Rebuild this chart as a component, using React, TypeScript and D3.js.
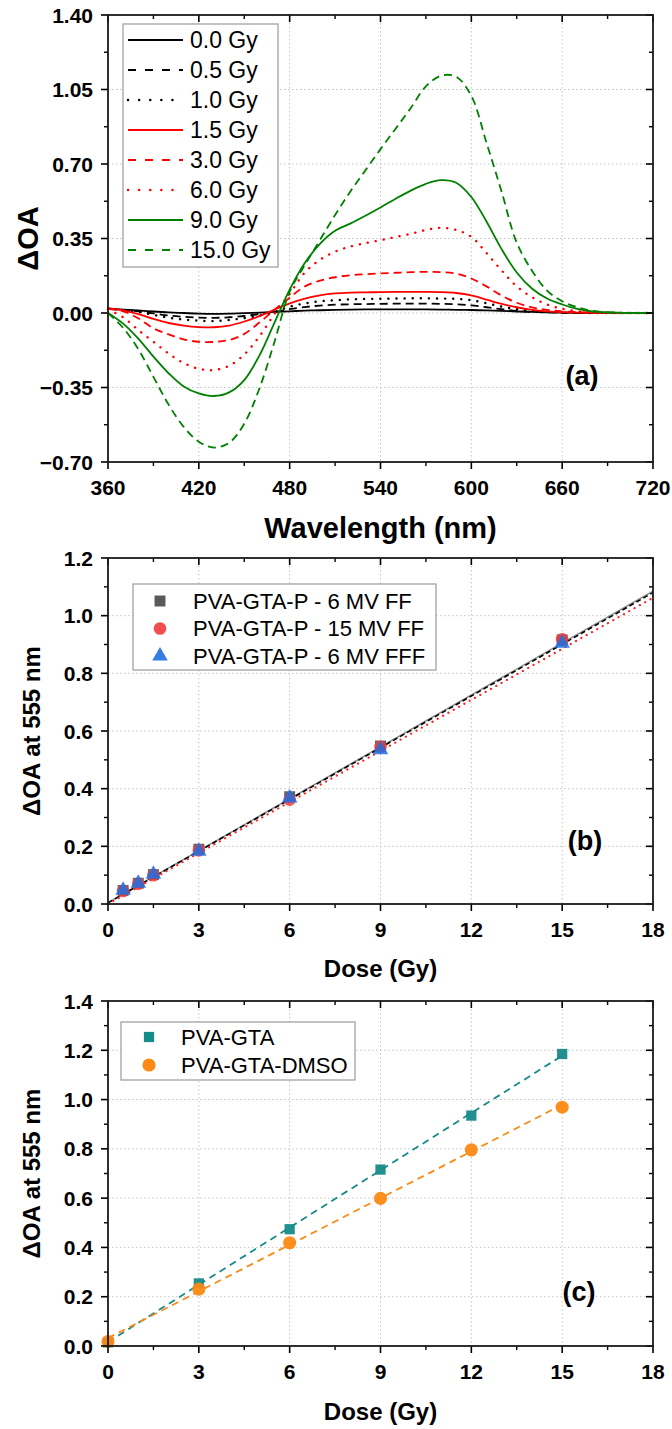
import React from "react";
import * as d3 from "d3";

const FONT = "'Liberation Sans', Arial, Helvetica, sans-serif";

// ---- panel (a): spectra ----
const wavelengths = [360, 370, 380, 390, 400, 410, 420, 430, 440, 450, 460, 470, 480, 490, 500, 510, 520, 530, 540, 550, 560, 570, 580, 590, 600, 610, 620, 630, 640, 650, 660, 670, 680, 700, 720];
const doseLabels = ["0.0 Gy", "0.5 Gy", "1.0 Gy", "1.5 Gy", "3.0 Gy", "6.0 Gy", "9.0 Gy", "15.0 Gy"];
const spec00 = [0.020, 0.016, 0.012, 0.007, 0.003, 0.000, -0.003, -0.004, -0.003, -0.001, 0.002, 0.005, 0.008, 0.011, 0.013, 0.015, 0.016, 0.017, 0.017, 0.017, 0.017, 0.017, 0.016, 0.015, 0.014, 0.012, 0.010, 0.007, 0.005, 0.003, 0.002, 0.001, 0.000, 0, 0];
const spec05 = [0.020, 0.015, 0.008, -0.002, -0.012, -0.018, -0.022, -0.023, -0.020, -0.014, -0.005, 0.005, 0.018, 0.028, 0.035, 0.039, 0.041, 0.042, 0.043, 0.044, 0.044, 0.044, 0.043, 0.041, 0.036, 0.027, 0.018, 0.010, 0.005, 0.003, 0.001, 0.000, 0, 0, 0];
const spec10 = [0.020, 0.014, 0.005, -0.009, -0.022, -0.031, -0.036, -0.038, -0.033, -0.024, -0.012, 0.005, 0.030, 0.045, 0.055, 0.060, 0.064, 0.066, 0.067, 0.068, 0.069, 0.069, 0.068, 0.066, 0.060, 0.046, 0.030, 0.018, 0.010, 0.005, 0.003, 0.001, 0, 0, 0];
const spec15 = [0.023, 0.012, -0.005, -0.028, -0.047, -0.059, -0.066, -0.067, -0.059, -0.040, -0.015, 0.016, 0.045, 0.068, 0.083, 0.092, 0.096, 0.097, 0.098, 0.099, 0.099, 0.099, 0.098, 0.094, 0.083, 0.063, 0.043, 0.027, 0.015, 0.008, 0.004, 0.002, 0.001, 0, 0];
const spec30 = [0.019, 0.008, -0.025, -0.072, -0.100, -0.124, -0.135, -0.136, -0.127, -0.098, -0.045, 0.015, 0.072, 0.125, 0.152, 0.168, 0.177, 0.182, 0.186, 0.189, 0.192, 0.193, 0.192, 0.185, 0.162, 0.125, 0.082, 0.048, 0.027, 0.015, 0.008, 0.004, 0.002, 0, 0];
const spec60 = [0.016, -0.020, -0.080, -0.135, -0.190, -0.235, -0.262, -0.268, -0.248, -0.195, -0.110, -0.004, 0.090, 0.190, 0.250, 0.288, 0.312, 0.328, 0.342, 0.357, 0.372, 0.390, 0.400, 0.390, 0.358, 0.282, 0.200, 0.125, 0.075, 0.040, 0.020, 0.008, 0.003, 0, 0];
const spec90 = [0.000, -0.050, -0.120, -0.205, -0.283, -0.345, -0.378, -0.390, -0.373, -0.315, -0.200, -0.045, 0.110, 0.235, 0.325, 0.386, 0.420, 0.457, 0.496, 0.537, 0.575, 0.607, 0.624, 0.612, 0.545, 0.430, 0.300, 0.190, 0.115, 0.068, 0.040, 0.019, 0.007, 0.001, 0];
const spec150 = [0.000, -0.070, -0.170, -0.300, -0.430, -0.535, -0.605, -0.632, -0.610, -0.520, -0.355, -0.135, 0.100, 0.225, 0.343, 0.460, 0.570, 0.670, 0.770, 0.866, 0.963, 1.065, 1.115, 1.110, 1.020, 0.800, 0.570, 0.330, 0.200, 0.105, 0.055, 0.027, 0.010, 0.001, 0];
const spectra = [spec00, spec05, spec10, spec15, spec30, spec60, spec90, spec150];
const specColors = ["#000000", "#000000", "#000000", "#ff0000", "#ff0000", "#ff0000", "#008000", "#008000"];
const specDash = ["", "8,5", "0.1,8", "", "8,5", "0.1,8", "", "8,5"];

// ---- panel (b): linearity for beams ----
const beamLabels = ["PVA-GTA-P - 6 MV FF", "PVA-GTA-P - 15 MV FF", "PVA-GTA-P - 6 MV FFF"];
const beamDoses = [0.5, 1, 1.5, 3, 6, 9, 15];
const ff6 = [0.047, 0.072, 0.102, 0.190, 0.372, 0.548, 0.916];
const ff15 = [0.045, 0.070, 0.100, 0.186, 0.362, 0.545, 0.918];
const fff6 = [0.048, 0.072, 0.103, 0.183, 0.368, 0.535, 0.904];
const fitDosesB = [0, 18];
const fitFF6 = [0.005, 1.085];
const fitFF15 = [0.0, 1.062];
const fitFFF6 = [0.004, 1.08];

// ---- panel (c): gel compositions ----
const gelLabels = ["PVA-GTA", "PVA-GTA-DMSO"];
const gelDoses = [0, 3, 6, 9, 12, 15];
const pvaGta = [0.015, 0.254, 0.474, 0.716, 0.935, 1.185];
const pvaGtaDmso = [0.018, 0.231, 0.419, 0.599, 0.796, 0.969];
const fitDosesC = [0, 15];
const fitGta = [0.016, 1.178];
const fitDmso = [0.032, 0.979];

const xA = d3.scaleLinear().domain([360, 720]).range([108, 653]);
const yA = d3.scaleLinear().domain([-0.7, 1.4]).range([462, 15]);
const xB = d3.scaleLinear().domain([0, 18]).range([108, 653]);
const yB = d3.scaleLinear().domain([0, 1.2]).range([904, 558]);
const xC = d3.scaleLinear().domain([0, 18]).range([108, 653]);
const yC = d3.scaleLinear().domain([0, 1.4]).range([1346, 1001]);

type Lin = d3.ScaleLinear<number, number>;

function Frame({ x, y, xTicks, yTicks, xMinor, yMinor, yFmt, xLabel, yLabel, xLabelSize, yLabelSize, yLabelX, xLabelGap }: any) {
  const [x0, x1] = (x as Lin).range();
  const [y0, y1] = (y as Lin).range(); // y0 bottom, y1 top
  const maj = 7, mnr = 4;
  const xs: number[] = xTicks, ys: number[] = yTicks;
  return (
    <g>
      {xs.map((t, i) => (
        <g key={"xt" + i}>
          <line x1={x(t)} x2={x(t)} y1={y0} y2={y0 + maj} stroke="#000" strokeWidth={1.6} />
          <line x1={x(t)} x2={x(t)} y1={y1} y2={y1 + maj} stroke="#000" strokeWidth={1.6} />
          <text x={x(t)} y={y0 + 33} textAnchor="middle" fontSize={21} fontWeight="bold">{t}</text>
        </g>
      ))}
      {(xMinor as number[]).map((t, i) => (
        <g key={"xm" + i}>
          <line x1={x(t)} x2={x(t)} y1={y0} y2={y0 + mnr} stroke="#000" strokeWidth={1.4} />
          <line x1={x(t)} x2={x(t)} y1={y1} y2={y1 + mnr} stroke="#000" strokeWidth={1.4} />
        </g>
      ))}
      {ys.map((t, i) => (
        <g key={"yt" + i}>
          <line x1={x0 - maj} x2={x0} y1={y(t)} y2={y(t)} stroke="#000" strokeWidth={1.6} />
          <line x1={x1 - maj} x2={x1} y1={y(t)} y2={y(t)} stroke="#000" strokeWidth={1.6} />
          <text x={x0 - 15} y={y(t)} dy="0.36em" textAnchor="end" fontSize={21} fontWeight="bold">{yFmt(t)}</text>
        </g>
      ))}
      {(yMinor as number[]).map((t, i) => (
        <g key={"ym" + i}>
          <line x1={x0 - mnr} x2={x0} y1={y(t)} y2={y(t)} stroke="#000" strokeWidth={1.4} />
          <line x1={x1 - mnr} x2={x1} y1={y(t)} y2={y(t)} stroke="#000" strokeWidth={1.4} />
        </g>
      ))}
      <rect x={x0} y={y1} width={x1 - x0} height={y0 - y1} fill="none" stroke="#1a1a1a" strokeWidth={1.8} />
      <text x={(x0 + x1) / 2} y={y0 + xLabelGap} textAnchor="middle" fontSize={xLabelSize} fontWeight="bold">{xLabel}</text>
      <text transform={`translate(${yLabelX},${(y0 + y1) / 2}) rotate(-90)`} textAnchor="middle" fontSize={yLabelSize} fontWeight="bold">{yLabel}</text>
    </g>
  );
}

function Grid({ x, y, xTicks, yTicks }: any) {
  const [x0, x1] = (x as Lin).range();
  const [y0, y1] = (y as Lin).range();
  return (
    <g stroke="#c4c4c4" strokeWidth={1} strokeDasharray="1.5,2.5">
      {(xTicks as number[]).filter((t) => x(t) > x0 + 1 && x(t) < x1 - 1).map((t, i) => (
        <line key={"gx" + i} x1={x(t)} x2={x(t)} y1={y1} y2={y0} />
      ))}
      {(yTicks as number[]).filter((t) => y(t) < y0 - 1 && y(t) > y1 + 1).map((t, i) => (
        <line key={"gy" + i} x1={x0} x2={x1} y1={y(t)} y2={y(t)} />
      ))}
    </g>
  );
}

const sym = (type: any, size: number) => d3.symbol().type(type).size(size)() as string;

export default function App() {
  // panel (a)
  const aXTicks = d3.range(360, 721, 60);
  const aXMinor = d3.range(390, 720, 60);
  const aYTicks = [-0.7, -0.35, 0, 0.35, 0.7, 1.05, 1.4];
  const aYMinor = [-0.525, -0.175, 0.175, 0.525, 0.875, 1.225];
  const specLine = d3.line<number>()
    .x((_, i) => xA(wavelengths[i]))
    .y((v) => yA(v))
    .curve(d3.curveCatmullRom.alpha(0.5));
  const capFor = (k: number) => (specDash[k].startsWith("0.1") ? "round" : "butt");

  // panel (b)
  const bXTicks = d3.range(0, 19, 3);
  const bXMinor = d3.range(1.5, 18, 3);
  const bYTicks = d3.range(0, 1.21, 0.2);
  const bYMinor = d3.range(0.1, 1.2, 0.2);
  const fitLineB = (vals: number[]) => d3.line<number>().x((_, i) => xB(fitDosesB[i])).y((v) => yB(v))(vals) as string;
  const beamSeries = [
    { vals: ff6, color: "#484848", shape: d3.symbolSquare, size: 120 },
    { vals: ff15, color: "#f03c3c", shape: d3.symbolCircle, size: 125 },
    { vals: fff6, color: "#1e6fe0", shape: d3.symbolTriangle, size: 105 },
  ];

  // panel (c)
  const cYTicks = d3.range(0, 1.41, 0.2);
  const cYMinor = d3.range(0.1, 1.4, 0.2);
  const fitLineC = (vals: number[]) => d3.line<number>().x((_, i) => xC(fitDosesC[i])).y((v) => yC(v))(vals) as string;
  const gelSeries = [
    { vals: pvaGta, fit: fitGta, color: "#178a8a", shape: d3.symbolSquare, size: 105 },
    { vals: pvaGtaDmso, fit: fitDmso, color: "#fb8a14", shape: d3.symbolCircle, size: 135 },
  ];

  return (
    <svg width={672} height={1429} viewBox="0 0 672 1429"
      style={{ position: "absolute", left: 0, top: 0, background: "#fff", fontFamily: FONT }}>
      {/* ---------- (a) ---------- */}
      <Grid x={xA} y={yA} xTicks={aXTicks} yTicks={aYTicks} />
      {spectra.map((s, k) => (
        <path key={"sp" + k} d={specLine(s) as string} fill="none" stroke={specColors[k]}
          strokeWidth={capFor(k) === "round" ? 2.4 : 1.8} strokeLinecap={capFor(k)}
          strokeDasharray={specDash[k] || undefined} />
      ))}
      <Frame x={xA} y={yA} xTicks={aXTicks} yTicks={aYTicks} xMinor={aXMinor} yMinor={aYMinor}
        yFmt={d3.format(".2f")} xLabel="Wavelength (nm)" yLabel="ΔOA" xLabelSize={29} yLabelSize={29}
        yLabelX={38} xLabelGap={76} />
      <g>
        <rect x={123} y={24} width={155} height={243} fill="#fff" stroke="#9a9a9a" strokeWidth={1.2} />
        {doseLabels.map((lab, k) => (
          <g key={"la" + k} transform={`translate(0,${40 + 30 * k})`}>
            <line x1={128} x2={183} y1={0} y2={0} stroke={specColors[k]}
              strokeWidth={capFor(k) === "round" ? 2.4 : 1.8} strokeLinecap={capFor(k)}
              strokeDasharray={specDash[k] ? (capFor(k) === "round" ? "0.1,11" : "8,9") : undefined} />
            <text x={190} y={0} dy="0.36em" fontSize={23}>{lab}</text>
          </g>
        ))}
      </g>
      <text x={582} y={385} textAnchor="middle" fontSize={27} fontWeight="bold">(a)</text>

      {/* ---------- (b) ---------- */}
      <Grid x={xB} y={yB} xTicks={bXTicks} yTicks={bYTicks} />
      <path d={fitLineB(fitFF6)} stroke="#8a8a8a" strokeWidth={1.5} fill="none" />
      <path d={fitLineB(fitFFF6)} stroke="#000" strokeWidth={1.6} strokeDasharray="5,3" fill="none" />
      <path d={fitLineB(fitFF15)} stroke="#ff2020" strokeWidth={2.2} strokeLinecap="round" strokeDasharray="0.1,6" fill="none" />
      {beamSeries.map((s, k) => (
        <g key={"bs" + k}>
          {beamDoses.map((d, i) => (
            <path key={i} d={sym(s.shape, s.size)} transform={`translate(${xB(d)},${yB(s.vals[i])})`}
              fill={s.color} fillOpacity={0.85} />
          ))}
        </g>
      ))}
      <Frame x={xB} y={yB} xTicks={bXTicks} yTicks={bYTicks} xMinor={bXMinor} yMinor={bYMinor}
        yFmt={d3.format(".1f")} xLabel="Dose (Gy)" yLabel="ΔOA at 555 nm" xLabelSize={24} yLabelSize={24}
        yLabelX={40} xLabelGap={73} />
      <g>
        <rect x={133} y={584} width={303} height={86} fill="#fff" stroke="#9a9a9a" strokeWidth={1.2} />
        {beamLabels.map((lab, k) => (
          <g key={"lb" + k} transform={`translate(0,${601 + 27.5 * k})`}>
            <path d={sym(beamSeries[k].shape, beamSeries[k].size)} transform="translate(160,0)"
              fill={beamSeries[k].color} fillOpacity={0.9} />
            <text x={193} y={0} dy="0.36em" fontSize={22}>{lab}</text>
          </g>
        ))}
      </g>
      <text x={585} y={850} textAnchor="middle" fontSize={27} fontWeight="bold">(b)</text>

      {/* ---------- (c) ---------- */}
      <Grid x={xC} y={yC} xTicks={bXTicks} yTicks={cYTicks} />
      {gelSeries.map((s, k) => (
        <g key={"gs" + k}>
          <path d={fitLineC(s.fit)} stroke={s.color} strokeWidth={1.8} strokeDasharray="7,5" fill="none" />
          {gelDoses.map((d, i) => (
            <path key={i} d={sym(s.shape, s.size)} transform={`translate(${xC(d)},${yC(s.vals[i])})`}
              fill={s.color} fillOpacity={0.95} />
          ))}
        </g>
      ))}
      <Frame x={xC} y={yC} xTicks={bXTicks} yTicks={cYTicks} xMinor={bXMinor} yMinor={cYMinor}
        yFmt={d3.format(".1f")} xLabel="Dose (Gy)" yLabel="ΔOA at 555 nm" xLabelSize={24} yLabelSize={24}
        yLabelX={40} xLabelGap={74} />
      <g>
        <rect x={121} y={1022} width={234} height={58} fill="#fff" stroke="#9a9a9a" strokeWidth={1.2} />
        {gelLabels.map((lab, k) => (
          <g key={"lc" + k} transform={`translate(0,${1037 + 28 * k})`}>
            <path d={sym(gelSeries[k].shape, gelSeries[k].size)} transform="translate(149,0)" fill={gelSeries[k].color} />
            <text x={181} y={0} dy="0.36em" fontSize={22}>{lab}</text>
          </g>
        ))}
      </g>
      <text x={579} y={1301} textAnchor="middle" fontSize={27} fontWeight="bold">(c)</text>
    </svg>
  );
}
